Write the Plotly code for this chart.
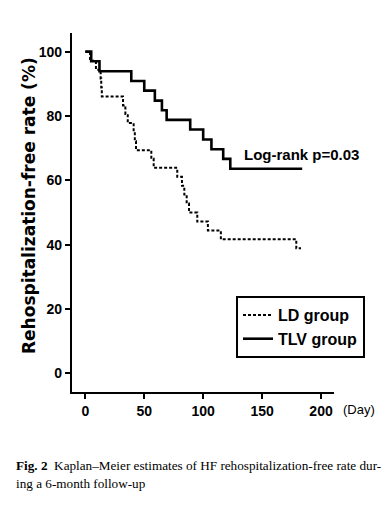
import plotly.graph_objects as go

# ---- data ----
tlv_days = [0, 5, 12, 39, 50, 59, 65, 69, 89, 100, 107, 117, 123, 184]
tlv_surv = [100, 97.0, 93.9, 90.9, 87.9, 84.8, 81.8, 78.8, 75.8, 72.7, 69.7, 66.7, 63.6, 63.6]

ld_days = [0, 4, 9, 13, 13.5, 14, 32, 34, 36, 41, 42, 43, 56, 58, 78, 82, 84, 86, 88, 95, 104, 115, 179, 183]
ld_surv = [100, 97.2, 94.4, 91.7, 88.9, 86.1, 83.3, 80.6, 77.8, 75.0, 72.2, 69.4, 66.7, 63.9,
           61.1, 58.3, 55.6, 52.8, 50.0, 47.2, 44.4, 41.7, 38.9, 38.9]

x_ticks = [0, 50, 100, 150, 200]
y_ticks = [0, 20, 40, 60, 80, 100]

# page is rendered with an 8px body margin -> work in page pixels, convert
OFF = 8
W, H = 389 - 2 * OFF, 519 - 2 * OFF
PL, PR, PT, PB = 72, 334, 33, 392          # plot area in page pixels
L, T = PL - OFF, PT - OFF
R, B = W - (PR - OFF), H - (PB - OFF)
PW, PH = W - L - R, H - T - B


def px(x):
    return (x - OFF - L) / PW


def py(y):
    return (H - B - (y - OFF)) / PH


SANS = "Liberation Sans, Arial, sans-serif"
SERIF = "Liberation Serif, Times New Roman, serif"

fig = go.Figure()
fig.add_trace(go.Scatter(
    x=ld_days, y=ld_surv, mode="lines", line_shape="hv", name="LD group",
    line=dict(color="black", width=2, dash="3px,2px")))
fig.add_trace(go.Scatter(
    x=tlv_days, y=tlv_surv, mode="lines", line_shape="hv", name="TLV group",
    line=dict(color="black", width=2.6)))

axis_common = dict(
    showline=True, linecolor="black", linewidth=2.2, showgrid=False, zeroline=False,
    ticks="outside", ticklen=5, tickwidth=2, tickcolor="black",
    tickfont=dict(family=SANS, size=14, color="black", weight="bold"),
)
fig.update_xaxes(range=[-11.3, 211], tickvals=x_ticks, **axis_common)
fig.update_yaxes(range=[-5.75, 105.8], tickvals=y_ticks, **axis_common)

fig.update_layout(
    width=W, height=H, margin=dict(l=L, r=R, t=T, b=B),
    plot_bgcolor="white", paper_bgcolor="white",
    showlegend=True,
    legend=dict(x=px(236), y=py(296), xanchor="left", yanchor="top",
                bordercolor="black", borderwidth=2, bgcolor="white",
                font=dict(family=SANS, size=16, color="black", weight="bold"),
                tracegroupgap=0),
    annotations=[
        dict(text="Rehospitalization-free rate (%)", textangle=-90,
             x=px(29), y=py(206), xref="paper", yref="paper",
             showarrow=False, xanchor="center", yanchor="middle",
             font=dict(family="DejaVu Sans, sans-serif", size=17, color="black", weight="bold")),
        dict(text="Log-rank p=0.03", x=px(242), y=py(154), xref="paper", yref="paper",
             showarrow=False, xanchor="left", yanchor="middle",
             font=dict(family=SANS, size=15, color="black", weight="bold")),
        dict(text="(Day)", x=px(341), y=py(410), xref="paper", yref="paper",
             showarrow=False, xanchor="left", yanchor="middle",
             font=dict(family=SANS, size=13, color="black")),
        dict(text="<b>Fig. 2</b>  Kaplan–Meier estimates of HF rehospitalization-free rate dur-",
             x=px(14), y=py(465), xref="paper", yref="paper",
             showarrow=False, xanchor="left", yanchor="middle",
             font=dict(family=SERIF, size=13.2, color="black")),
        dict(text="ing a 6-month follow-up",
             x=px(14), y=py(483), xref="paper", yref="paper",
             showarrow=False, xanchor="left", yanchor="middle",
             font=dict(family=SERIF, size=13.2, color="black")),
    ],
)

fig.write_html("out.html")
